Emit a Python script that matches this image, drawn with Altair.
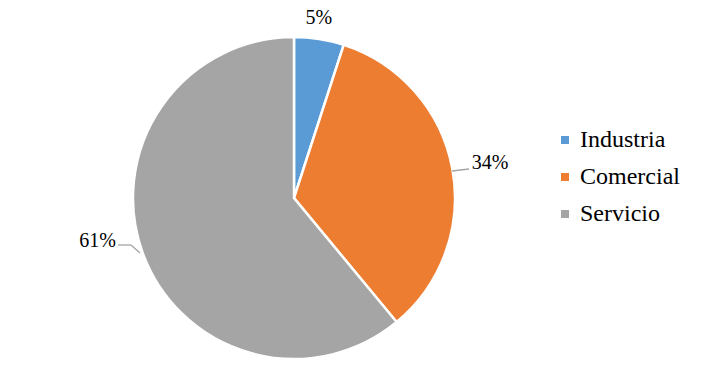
import altair as alt
import pandas as pd

categories = ["Industria", "Comercial", "Servicio"]
values = [5, 34, 61]
labels = ["5%", "34%", "61%"]
colors = ["#5B9BD5", "#ED7D31", "#A5A5A5"]

df = pd.DataFrame({"cat": categories, "val": values, "label": labels,
                   "ord": list(range(len(categories)))})

CX, CY, R = 286, 190, 161
FONT = "Liberation Serif"

base = alt.Chart(df).encode(
    theta=alt.Theta("val:Q", stack=True),
    order=alt.Order("ord:Q"),
)

pie = base.mark_arc(outerRadius=R, stroke="white", strokeWidth=2.5, x=CX, y=CY).encode(
    color=alt.Color("cat:N", scale=alt.Scale(domain=categories, range=colors),
                    sort=categories,
                    legend=alt.Legend(title=None, orient="none", legendX=545, legendY=120,
                                      padding=0, symbolType="square", symbolSize=64,
                                      symbolStrokeWidth=0, labelFont=FONT, labelFontSize=24,
                                      labelColor="#000000", labelOffset=3, rowPadding=13))
)

def lab(cat, r, align, dx, dy):
    return base.mark_text(radius=r, align=align, baseline="middle", dx=dx, dy=dy,
                          font=FONT, fontSize=20, color="#000000", x=CX, y=CY).encode(
        text="label:N",
        opacity=alt.condition(alt.datum.cat == cat, alt.value(1), alt.value(0)),
    )

t1 = lab("Industria", 184, "center", -4, 2)
t2 = lab("Comercial", 181, "left", 0, -1)
t3 = lab("Servicio", 183, "right", -6, -19)

lead_style = dict(color="#A5A5A5", strokeWidth=1.3)
lines_df = pd.DataFrame({"k": [0]})
l1 = alt.Chart(lines_df).mark_rule(**lead_style).encode(
    x=alt.value(444), x2=alt.value(461), y=alt.value(163), y2=alt.value(161))
l2 = alt.Chart(lines_df).mark_rule(**lead_style).encode(
    x=alt.value(110), x2=alt.value(123), y=alt.value(237), y2=alt.value(237))
l3 = alt.Chart(lines_df).mark_rule(**lead_style).encode(
    x=alt.value(123), x2=alt.value(132), y=alt.value(237), y2=alt.value(245))

chart = alt.layer(pie, t1, t2, t3, l1, l2, l3).properties(
    width=690, height=363, padding=0,
    autosize=alt.AutoSizeParams(type="none"),
).configure(background="white", view=alt.ViewConfig(stroke=None),
            text=alt.MarkConfig(font=FONT), legend=alt.LegendConfig(labelFont=FONT))

chart.save("out.html", embed_options={"renderer": "svg", "actions": False})
